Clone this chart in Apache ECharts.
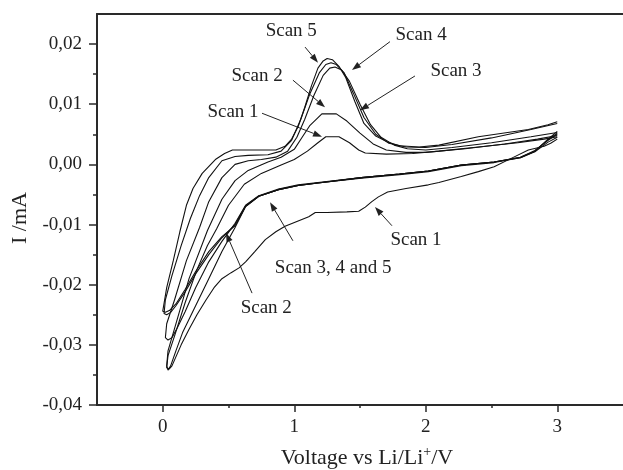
<!DOCTYPE html>
<html><head><meta charset="utf-8">
<script src="https://cdn.jsdelivr.net/npm/echarts@6/dist/echarts.min.js"></script>
<style>html,body{margin:0;padding:0;background:#fff}#c{width:623px;height:470px}</style>
</head><body><div id="c"></div>
<script>
// Voltage (V) vs current (mA), one closed loop per scan: cathodic 3 -> 0 V, then anodic 0 -> 3 V
const scan1 = [[3.0,0.0042],[2.95,0.0035],[2.9,0.0030],[2.78,0.0024],[2.65,0.0010],[2.52,-0.0004],[2.4,-0.0012],[2.27,-0.0020],[2.1,-0.0030],[2.02,-0.0034],[1.85,-0.0040],[1.71,-0.0046],[1.64,-0.0054],[1.59,-0.0062],[1.54,-0.0071],[1.49,-0.0078],[1.4,-0.0079],[1.25,-0.0080],[1.16,-0.0080],[1.11,-0.0087],[1.02,-0.0095],[0.93,-0.0103],[0.86,-0.0112],[0.78,-0.0125],[0.7,-0.0145],[0.63,-0.0162],[0.58,-0.0172],[0.52,-0.0180],[0.45,-0.0190],[0.39,-0.0205],[0.33,-0.0225],[0.26,-0.0250],[0.2,-0.0274],[0.14,-0.0300],[0.1,-0.0320],[0.07,-0.0335],[0.05,-0.0340],
 [0.03,-0.0338],[0.04,-0.0318],[0.09,-0.0285],[0.17,-0.0230],[0.26,-0.0175],[0.34,-0.0135],[0.41,-0.0107],[0.5,-0.0068],[0.62,-0.0033],[0.75,-0.0015],[0.9,-0.0001],[1.0,0.0008],[1.1,0.0022],[1.18,0.0036],[1.24,0.0046],[1.34,0.0046],[1.42,0.0036],[1.49,0.0024],[1.54,0.0019],[1.7,0.0017],[1.9,0.0018],[2.1,0.0022],[2.4,0.0029],[2.7,0.0036],[2.9,0.0042],[3.0,0.0046]];
const scan2 = [[3.0,0.0045],[2.93,0.0037],[2.83,0.0021],[2.72,0.0011],[2.52,0.0004],[2.27,-0.0001],[2.02,-0.0011],[1.8,-0.0016],[1.51,-0.0022],[1.18,-0.0031],[1.03,-0.0035],[0.88,-0.0042],[0.73,-0.0053],[0.63,-0.0070],[0.55,-0.0105],[0.45,-0.0145],[0.35,-0.0190],[0.25,-0.0235],[0.15,-0.0280],[0.1,-0.0310],[0.06,-0.0335],[0.04,-0.0342],
 [0.03,-0.0335],[0.04,-0.0310],[0.1,-0.0265],[0.2,-0.0190],[0.34,-0.0110],[0.45,-0.0058],[0.55,-0.0027],[0.65,-0.0010],[0.8,0.0004],[0.9,0.0012],[1.0,0.0025],[1.06,0.0045],[1.12,0.0065],[1.21,0.0084],[1.32,0.0084],[1.4,0.0072],[1.5,0.0052],[1.6,0.0034],[1.7,0.0024],[1.85,0.0020],[2.0,0.0020],[2.3,0.0026],[2.6,0.0034],[2.85,0.0042],[3.0,0.0048]];
const scan3 = [[3.0,0.0050],[2.93,0.0040],[2.83,0.0023],[2.72,0.0012],[2.52,0.0004],[2.27,-0.0001],[2.02,-0.0011],[1.8,-0.0016],[1.51,-0.0022],[1.18,-0.0030],[1.03,-0.0034],[0.88,-0.0041],[0.73,-0.0052],[0.63,-0.0068],[0.55,-0.0098],[0.45,-0.0128],[0.35,-0.0162],[0.25,-0.0205],[0.17,-0.0245],[0.11,-0.0272],[0.07,-0.0288],[0.04,-0.0292],
 [0.02,-0.0288],[0.03,-0.0265],[0.09,-0.0225],[0.18,-0.0160],[0.28,-0.0105],[0.35,-0.0062],[0.45,-0.0022],[0.55,0.0000],[0.65,0.0006],[0.75,0.0008],[0.86,0.0012],[0.95,0.0022],[1.02,0.0045],[1.08,0.0075],[1.15,0.0115],[1.22,0.0148],[1.27,0.0160],[1.31,0.0162],[1.36,0.0157],[1.42,0.0138],[1.5,0.0100],[1.58,0.0066],[1.66,0.0045],[1.76,0.0032],[1.86,0.0026],[2.0,0.0024],[2.2,0.0028],[2.5,0.0036],[2.8,0.0046],[3.0,0.0053]];
const scan4 = [[3.0,0.0052],[2.93,0.0041],[2.83,0.0022],[2.72,0.0011],[2.52,0.0003],[2.27,-0.0002],[2.02,-0.0012],[1.8,-0.0017],[1.51,-0.0023],[1.18,-0.0031],[1.03,-0.0035],[0.88,-0.0042],[0.73,-0.0053],[0.63,-0.0069],[0.55,-0.0100],[0.45,-0.0122],[0.35,-0.0150],[0.25,-0.0182],[0.17,-0.0212],[0.1,-0.0235],[0.06,-0.0246],[0.03,-0.0250],
 [0.01,-0.0248],[0.02,-0.0225],[0.07,-0.0185],[0.14,-0.0135],[0.21,-0.0090],[0.28,-0.0052],[0.35,-0.0022],[0.45,0.0006],[0.55,0.0013],[0.65,0.0015],[0.8,0.0016],[0.9,0.0022],[0.98,0.0040],[1.05,0.0075],[1.12,0.0118],[1.19,0.0152],[1.24,0.0166],[1.28,0.0169],[1.32,0.0166],[1.38,0.0152],[1.45,0.0118],[1.53,0.0078],[1.62,0.0050],[1.72,0.0035],[1.85,0.0029],[2.0,0.0028],[2.2,0.0033],[2.5,0.0044],[2.8,0.0058],[3.0,0.0068]];
const scan5 = [[3.0,0.0055],[2.93,0.0042],[2.83,0.0022],[2.72,0.0012],[2.52,0.0004],[2.27,-0.0001],[2.02,-0.0011],[1.8,-0.0016],[1.51,-0.0022],[1.18,-0.0031],[1.03,-0.0035],[0.88,-0.0042],[0.73,-0.0053],[0.63,-0.0070],[0.55,-0.0102],[0.45,-0.0120],[0.35,-0.0145],[0.25,-0.0178],[0.17,-0.0208],[0.1,-0.0232],[0.05,-0.0243],[0.02,-0.0246],
 [0.0,-0.0244],[0.03,-0.0205],[0.08,-0.0160],[0.13,-0.0112],[0.18,-0.0068],[0.23,-0.0040],[0.3,-0.0015],[0.4,0.0008],[0.47,0.0018],[0.53,0.0024],[0.86,0.0024],[0.93,0.0030],[0.98,0.0042],[1.03,0.0063],[1.08,0.0095],[1.13,0.0130],[1.18,0.0160],[1.22,0.0172],[1.25,0.0176],[1.29,0.0174],[1.34,0.0163],[1.39,0.0145],[1.46,0.0105],[1.53,0.0068],[1.62,0.0047],[1.71,0.0037],[1.8,0.0031],[1.95,0.0029],[2.1,0.0032],[2.4,0.0046],[2.78,0.0058],[2.93,0.0066],[3.0,0.0071]];
const scans = [scan1, scan2, scan3, scan4, scan5];

const yTicks = [-0.04,-0.03,-0.02,-0.01,0,0.01,0.02];
const yMinorTicks = [-0.035,-0.025,-0.015,-0.005,0.005,0.015];
const xTicks = [0,1,2,3];
const xMinorTicks = [0.5,1.5,2.5];

// annotation label [V, I], arrow start and arrow tip, in data coordinates
const annotations = [
  {text:'Scan 5', at:[0.977,0.0222], from:[1.082,0.0195], to:[1.181,0.0169]},
  {text:'Scan 4', at:[1.965,0.0215], from:[1.728,0.0204], to:[1.439,0.0157]},
  {text:'Scan 3', at:[2.23,0.0155], from:[1.918,0.0147], to:[1.50,0.0090]},
  {text:'Scan 2', at:[0.717,0.0147], from:[0.99,0.0140], to:[1.234,0.0095]},
  {text:'Scan 1', at:[0.534,0.0087], from:[0.755,0.0085], to:[1.211,0.0046]},
  {text:'Scan 1', at:[1.926,-0.0126], from:[1.743,-0.0102], to:[1.614,-0.0071]},
  {text:'Scan 3, 4 and 5', at:[1.296,-0.0172], from:[0.99,-0.0127], to:[0.816,-0.0063]},
  {text:'Scan 2', at:[0.787,-0.0239], from:[0.679,-0.0214], to:[0.481,-0.0114]}
];

const FONT = 'Liberation Serif';
const AXC = '#2a2a2a';
const chart = echarts.init(document.getElementById('c'), null, {renderer:'canvas'});
const fmtY = v => v.toFixed(2).replace('.', ',').replace('-0,00','0,00');

chart.setOption({
  animation:false,
  backgroundColor:'#fff',
  grid:{left:97, right:0, top:14, bottom:65, containLabel:false, outerBoundsMode:'none'},
  xAxis:[
    {type:'value', min:-0.5, max:3.5, position:'bottom',
     axisLine:{show:true, onZero:false, lineStyle:{color:AXC, width:2}},
     axisTick:{show:true, inside:false, length:7, customValues:xTicks, lineStyle:{color:AXC, width:1.5}},
     axisLabel:{show:true, customValues:xTicks, margin:13, fontFamily:FONT, fontSize:19, color:'#222', formatter:v=>String(v)},
     splitLine:{show:false}},
    {type:'value', min:-0.5, max:3.5, position:'bottom',
     axisLine:{show:false, onZero:false},
     axisTick:{show:true, inside:false, length:3, customValues:xMinorTicks, lineStyle:{color:AXC, width:1.5}},
     axisLabel:{show:false}, splitLine:{show:false}},
    {type:'value', min:-0.5, max:3.5, position:'top',
     axisLine:{show:true, onZero:false, lineStyle:{color:AXC, width:2}},
     axisTick:{show:false}, axisLabel:{show:false}, splitLine:{show:false}}
  ],
  yAxis:[
    {type:'value', min:-0.04, max:0.025, position:'left',
     axisLine:{show:true, onZero:false, lineStyle:{color:AXC, width:2}},
     axisTick:{show:true, inside:false, length:8, customValues:yTicks, lineStyle:{color:AXC, width:1.5}},
     axisLabel:{show:true, customValues:yTicks, margin:15, fontFamily:FONT, fontSize:19, color:'#222', formatter:fmtY},
     splitLine:{show:false}},
    {type:'value', min:-0.04, max:0.025, position:'left', offset:0,
     axisLine:{show:false, onZero:false},
     axisTick:{show:true, inside:false, length:4, customValues:yMinorTicks, lineStyle:{color:AXC, width:1.5}},
     axisLabel:{show:false}, splitLine:{show:false}}
  ],
  series: scans.map((d,i)=>({
    type:'line', name:'Scan '+(i+1), data:d, xAxisIndex:0, yAxisIndex:0,
    showSymbol:false, symbol:'none', smooth:false,
    lineStyle:{color:'#111', width:1.1}, silent:true
  }))
});

const g = [];
annotations.forEach(a=>{
  const p = chart.convertToPixel({xAxisIndex:0, yAxisIndex:0}, a.at);
  const f = chart.convertToPixel({xAxisIndex:0, yAxisIndex:0}, a.from);
  const t = chart.convertToPixel({xAxisIndex:0, yAxisIndex:0}, a.to);
  g.push({type:'text', x:p[0], y:p[1], silent:true,
    style:{text:a.text, fontFamily:FONT, fontSize:19, fill:'#222', align:'center', verticalAlign:'middle'}});
  const dx = t[0]-f[0], dy = t[1]-f[1], L = Math.hypot(dx,dy), ux = dx/L, uy = dy/L;
  const hl = 9, hw = 3.2;
  const bx = t[0]-ux*hl, by = t[1]-uy*hl;
  g.push({type:'line', silent:true, shape:{x1:f[0], y1:f[1], x2:bx, y2:by}, style:{stroke:'#222', lineWidth:1}});
  g.push({type:'polygon', silent:true, shape:{points:[[t[0],t[1]],[bx-uy*hw, by+ux*hw],[bx+uy*hw, by-ux*hw]]}, style:{fill:'#222'}});
});
g.push({type:'text', x:367, y:458, silent:true,
  style:{text:'{a|Voltage vs Li/Li}{s|+}{a|/V}', align:'center', verticalAlign:'middle',
    rich:{a:{fontFamily:FONT, fontSize:22, fill:'#222', lineHeight:26},
          s:{fontFamily:FONT, fontSize:14, fill:'#222', verticalAlign:'top', lineHeight:26, padding:[0,0,8,0]}}}});
g.push({type:'text', x:20, y:218, rotation:Math.PI/2, silent:true,
  style:{text:'I /mA', fontFamily:FONT, fontSize:22, fill:'#222', align:'center', verticalAlign:'middle'}});
chart.setOption({graphic:g});
</script></body></html>
